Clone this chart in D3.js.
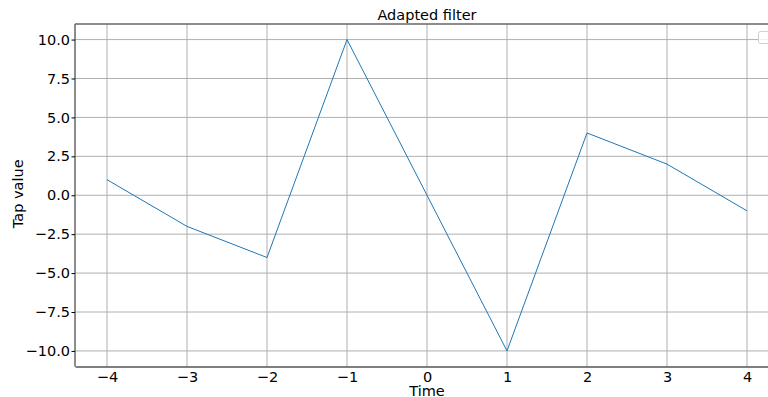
<!DOCTYPE html>
<html>
<head>
<meta charset="utf-8">
<script src="https://cdn.jsdelivr.net/npm/d3@7"></script>
<style>
  html, body { margin: 0; padding: 0; background: #fff; overflow: hidden; }
  svg { display: block; font-family: "DejaVu Sans", sans-serif; }
</style>
</head>
<body>
<svg id="chart" width="768" height="397"></svg>
<script>
// Filter taps over time
const times = [-4, -3, -2, -1, 0, 1, 2, 3, 4];
const taps = [1, -2, -4, 10, 0, -10, 4, 2, -1];
const xTicks = [-4, -3, -2, -1, 0, 1, 2, 3, 4];
const yTicks = [-10, -7.5, -5, -2.5, 0, 2.5, 5, 7.5, 10];

const FS = 14.5;
const svg = d3.select("#chart");
const margin = { left: 75, top: 24, right: 779, bottom: 366.5 };

const x = d3.scaleLinear().domain([-4.4, 4.4]).range([margin.left, margin.right]);
const y = d3.scaleLinear().domain([-11, 11]).range([margin.bottom, margin.top]);

const minus = s => s.replace("-", "\u2212");

// grid
const grid = svg.append("g");
grid.selectAll("line.vx").data(xTicks).join("line")
  .attr("x1", d => x(d)).attr("x2", d => x(d))
  .attr("y1", margin.top).attr("y2", margin.bottom)
  .attr("stroke", "#b0b0b0").attr("stroke-width", 1);
grid.selectAll("line.hy").data(yTicks).join("line")
  .attr("y1", d => y(d)).attr("y2", d => y(d))
  .attr("x1", margin.left).attr("x2", margin.right)
  .attr("stroke", "#b0b0b0").attr("stroke-width", 1);

// series
const line = d3.line().x((d, i) => x(times[i])).y(d => y(d));
svg.append("path").datum(taps)
  .attr("d", line)
  .attr("fill", "none")
  .attr("stroke", "#1f77b4")
  .attr("stroke-width", 1);

// spines
svg.append("line").attr("x1", margin.left).attr("x2", margin.right)
  .attr("y1", margin.top).attr("y2", margin.top)
  .attr("stroke", "#666").attr("stroke-width", 1.5);
svg.append("line").attr("x1", margin.left).attr("x2", margin.left)
  .attr("y1", margin.top).attr("y2", margin.bottom)
  .attr("stroke", "#666").attr("stroke-width", 1.5);

// axes
const xAxis = d3.axisBottom(x).tickValues(xTicks).tickSizeInner(0).tickSizeOuter(0).tickPadding(5)
  .tickFormat(d => minus(d3.format("d")(d)));
const gx = svg.append("g").attr("transform", `translate(0,${margin.bottom})`).call(xAxis);
gx.select(".domain").attr("stroke", "#000").attr("stroke-width", 1.2);

const yAxis = d3.axisLeft(y).tickValues(yTicks).tickSize(3.5).tickPadding(1.5)
  .tickFormat(d => minus(d3.format(".1f")(d)));
const gy = svg.append("g").attr("transform", `translate(${margin.left},0)`).call(yAxis);
gy.select(".domain").remove();

svg.selectAll(".tick text").attr("font-size", FS).attr("fill", "#000")
  .attr("font-family", "DejaVu Sans, sans-serif");
svg.selectAll(".tick line").attr("stroke", "#000");

// labels
svg.append("text").attr("x", x(0)).attr("y", 19.5).attr("text-anchor", "middle")
  .attr("font-size", FS).text("Adapted filter");
svg.append("text").attr("x", x(0)).attr("y", 396).attr("text-anchor", "middle")
  .attr("font-size", FS).text("Time");
svg.append("text").attr("transform", `translate(23,${y(0) - 1.5}) rotate(-90)`)
  .attr("text-anchor", "middle").attr("font-size", FS).text("Tap value");

// empty legend frame
svg.append("rect").attr("x", 758.5).attr("y", 31.5).attr("width", 30).attr("height", 12)
  .attr("rx", 2).attr("fill", "#fff").attr("fill-opacity", 0.8)
  .attr("stroke", "#d0d0d0").attr("stroke-width", 1);
</script>
</body>
</html>
